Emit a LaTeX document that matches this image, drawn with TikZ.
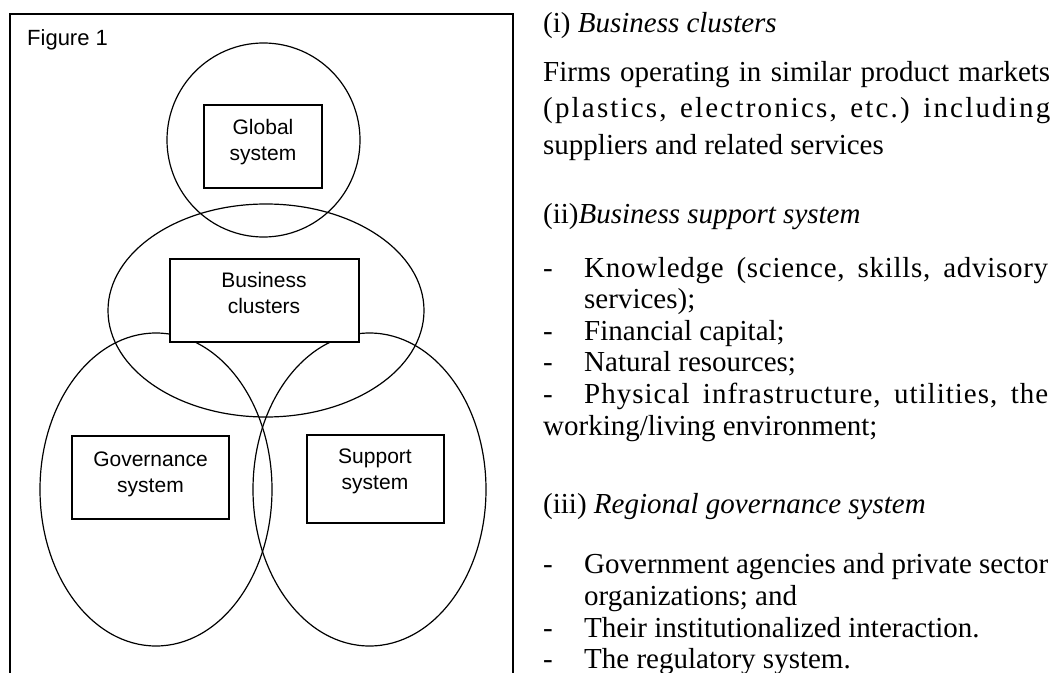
\documentclass[tikz,border=0pt]{standalone}
\usepackage{fontspec}
\setmainfont{Liberation Serif}
\newfontfamily\arialfont{Liberation Sans}
\frenchspacing
\begin{document}
\begin{tikzpicture}[x=1bp,y=-1bp,
  ring/.style={line width=1.2bp},
  frameline/.style={line width=1.4bp},
  sysbox/.style={draw, line width=1.4bp, fill=white, inner sep=0pt},
  lbl/.style={font=\arialfont\fontsize{21bp}{26bp}\selectfont, inner sep=0pt, anchor=base},
  txt/.style={font=\fontsize{29bp}{31bp}\selectfont, inner sep=0pt, anchor=base west}]
\useasboundingbox (0,0) rectangle (1056,673);
% frame (open at the bottom)
\coordinate (fbl) at (10,673);
\coordinate (ftl) at (10,14);
\coordinate (ftr) at (513,14);
\coordinate (fbr) at (513,673);
\draw[frameline] (fbl) -- (ftl) -- (ftr) -- (fbr);
\node[font=\arialfont\fontsize{22bp}{26bp}\selectfont, inner sep=0pt, anchor=base west] (fig) at (27,45.5) {Figure 1};
% circles / ellipses
\draw[ring] (263.5,140) ellipse [x radius=96.5bp, y radius=97bp];
\draw[ring] (266,310.5) ellipse [x radius=158bp, y radius=106.5bp];
\draw[ring] (156,489.5) ellipse [x radius=116bp, y radius=156.5bp];
\draw[ring] (369.5,489.5) ellipse [x radius=116.5bp, y radius=156.5bp];
% boxes
\node[sysbox, minimum width=118bp, minimum height=83bp] (gbox) at (263,146.5) {};
\node[sysbox, minimum width=189bp, minimum height=83bp] (bbox) at (264.5,300.5) {};
\node[sysbox, minimum width=157bp, minimum height=83bp] (govbox) at (150.5,477.5) {};
\node[sysbox, minimum width=137bp, minimum height=88bp] (sbox) at (375.5,479) {};
\node[lbl] (glbl) at (263,135) {\begin{tabular}[t]{@{}c@{}}Global\\system\end{tabular}};
\node[lbl] (blbl) at (264,287) {\begin{tabular}[t]{@{}c@{}}Business\\clusters\end{tabular}};
\node[lbl] (govlbl) at (150.5,466) {\begin{tabular}[t]{@{}c@{}}Governance\\system\end{tabular}};
\node[lbl] (slbl) at (375,463) {\begin{tabular}[t]{@{}c@{}}Support\\system\end{tabular}};
% right-hand text
\node[txt] (t1) at (543,32.7) {(i) \textit{Business clusters}};
\node[txt] (t2) at (543,82) {\makebox[507bp][s]{Firms operating in similar product markets}};
\node[txt] (t3) at (543,118) {\makebox[507bp][s]{\addfontfeature{LetterSpace=7.5}(plastics, electronics, etc.) including}};
\node[txt] (t4) at (543,155) {suppliers and related services};
\node[txt] (t5) at (543,223) {(ii)\textit{Business support system}};
\node[txt] (d1) at (543,277) {-};
\node[txt] (t6) at (584,277) {\makebox[464bp][s]{\addfontfeature{LetterSpace=2.5}Knowledge (science, skills, advisory}};
\node[txt] (t7) at (584,308) {services);};
\node[txt] (d2) at (543,340) {-};
\node[txt] (t8) at (584,340) {Financial capital;};
\node[txt] (d3) at (543,371) {-};
\node[txt] (t9) at (584,371) {Natural resources;};
\node[txt] (d4) at (543,403) {-};
\node[txt] (t10) at (584,403) {\makebox[464bp][s]{\addfontfeature{LetterSpace=3.5}Physical infrastructure, utilities, the}};
\node[txt] (t11) at (543,435) {working/living environment;};
\node[txt] (t12) at (543,513) {(iii) \textit{Regional governance system}};
\node[txt] (d5) at (543,573) {-};
\node[txt] (t13) at (584,573) {\makebox[464bp][s]{Government agencies and private sector}};
\node[txt] (t14) at (584,605) {organizations; and};
\node[txt] (d6) at (543,637) {-};
\node[txt] (t15) at (584,637) {Their institutionalized interaction.};
\node[txt] (d7) at (543,668) {-};
\node[txt] (t16) at (584,668) {The regulatory system.};
\end{tikzpicture}
\end{document}
